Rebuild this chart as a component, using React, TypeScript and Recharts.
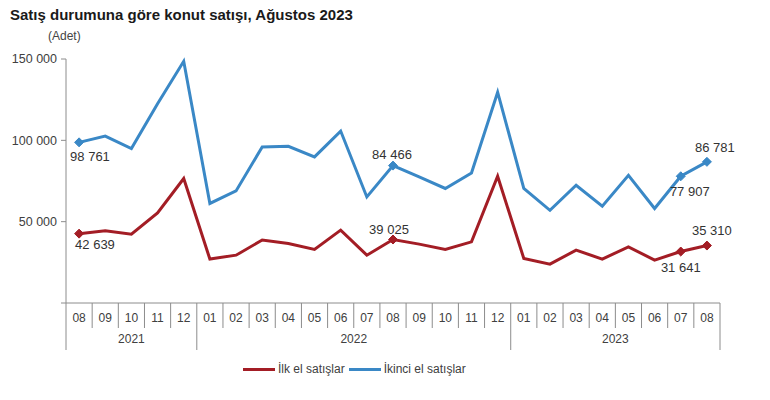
import React from 'react'
import { LineChart, Line, XAxis, YAxis, LabelList } from 'recharts'

// ── Data ──────────────────────────────────────────────────────────────────────

const months = [
  '08', '09', '10', '11', '12',
  '01', '02', '03', '04', '05', '06', '07', '08', '09', '10', '11', '12',
  '01', '02', '03', '04', '05', '06', '07', '08',
]
const years = ['2021', '2022', '2023']
const yearStarts = [0, 5, 17]

const firstHand = [
  42639, 44400, 42300, 55400, 76500,
  27000, 29400, 38700, 36600, 32900, 44800, 29400, 39025, 36200, 32900, 37600, 77900,
  27400, 23900, 32500, 27000, 34500, 26400, 31641, 35310,
]
const secondHand = [
  98761, 102600, 94900, 122500, 148600,
  61200, 68900, 95900, 96300, 89800, 105700, 65200, 84466, 77500, 70400, 79900, 129600,
  70400, 57000, 72400, 59500, 78500, 58100, 77907, 86781,
]
const yTicks = [0, 50000, 100000, 150000]
const markedPoints = [0, 12, 23, 24]

// ── Layout / style ────────────────────────────────────────────────────────────

const FONT = '"Liberation Sans", Arial, sans-serif'
const TEXT = '#404040'
const GRID = '#8c8c8c'
const RED = '#a31d25'
const BLUE = '#3a88c6'
const PLOT_LEFT = 66
const PLOT_RIGHT = 720
const STEP = (PLOT_RIGHT - PLOT_LEFT) / months.length

type Place = { dx: number; dy: number; anchor: 'start' | 'middle' | 'end' }

const firstPlaces: Record<number, Place> = {
  0: { dx: -4, dy: 15, anchor: 'start' },
  12: { dx: -4, dy: -6, anchor: 'middle' },
  23: { dx: 0, dy: 20, anchor: 'middle' },
  24: { dx: 5, dy: -11, anchor: 'middle' },
}
const secondPlaces: Record<number, Place> = {
  0: { dx: -9, dy: 19, anchor: 'start' },
  12: { dx: -1, dy: -7, anchor: 'middle' },
  23: { dx: 9, dy: 20, anchor: 'middle' },
  24: { dx: 8, dy: -10, anchor: 'middle' },
}

const data = months.map((m, i) => ({
  key: `${i}-${m}`,
  month: m,
  first: firstHand[i],
  second: secondHand[i],
}))

const fmt = (v: number) => String(v).replace(/\B(?=(\d{3})+(?!\d))/g, ' ')

// ── Pieces ────────────────────────────────────────────────────────────────────

function MonthTick(props: any) {
  const { x, y, index } = props
  const left = x - STEP / 2
  const gi = yearStarts.indexOf(index)
  const out: React.ReactNode[] = []
  out.push(
    <text key="t" x={x} y={y + 19} textAnchor="middle" fontSize={12} fill={TEXT}>
      {months[index]}
    </text>
  )
  out.push(
    <line key="l" x1={left} x2={left} y1={y} y2={gi >= 0 ? y + 47 : y + 25} stroke={GRID} />
  )
  if (gi >= 0) {
    const end = gi + 1 < yearStarts.length ? yearStarts[gi + 1] : months.length
    const cx = left + ((end - index) * STEP) / 2
    out.push(
      <text key="y" x={cx} y={y + 40} textAnchor="middle" fontSize={12} fill={TEXT}>
        {years[gi]}
      </text>
    )
  }
  if (index === months.length - 1) {
    out.push(<line key="r" x1={x + STEP / 2} x2={x + STEP / 2} y1={y} y2={y + 47} stroke={GRID} />)
  }
  return <g>{out}</g>
}

function makeDot(color: string) {
  return (p: any) => {
    const { cx, cy, index } = p
    if (!markedPoints.includes(index)) return <g key={`d${index}`} />
    const r = 4.5
    return (
      <path
        key={`d${index}`}
        d={`M${cx - r},${cy} L${cx},${cy - r} L${cx + r},${cy} L${cx},${cy + r} Z`}
        fill={color}
        stroke={color}
      />
    )
  }
}

function makeLabel(places: Record<number, Place>) {
  return (p: any) => {
    const { x, y, value, index } = p
    const pl = places[index]
    if (!pl) return null
    return (
      <text x={x + pl.dx} y={y + pl.dy} textAnchor={pl.anchor} fontSize={13} fill="#333">
        {fmt(value)}
      </text>
    )
  }
}

function LegendItem({ color, label }: { color: string; label: string }) {
  return (
    <div style={{ display: 'flex', alignItems: 'center', marginRight: 4 }}>
      <div style={{ width: 32, height: 3, background: color, marginRight: 3 }} />
      <span>{label}</span>
    </div>
  )
}

// ── App ───────────────────────────────────────────────────────────────────────

export default function App() {
  return (
    <div style={{ position: 'absolute', left: 0, top: 0, width: 770, height: 400, background: '#fff', fontFamily: FONT }}>
      <div style={{ position: 'absolute', left: 10, top: 6, fontSize: 15, fontWeight: 'bold', color: '#1a1a1a' }}>
        Satış durumuna göre konut satışı, Ağustos 2023
      </div>
      <div style={{ position: 'absolute', left: 48, top: 29, fontSize: 12, color: '#444' }}>(Adet)</div>

      <LineChart
        width={770}
        height={400}
        data={data}
        margin={{ top: 59, right: 770 - PLOT_RIGHT, left: 0, bottom: 47 }}
        style={{ position: 'absolute', left: 0, top: 0 }}
      >
        <XAxis
          dataKey="key"
          scale="band"
          height={50}
          interval={0}
          tickSize={0}
          tickMargin={0}
          tickLine={false}
          axisLine={{ stroke: GRID }}
          tick={<MonthTick />}
        />
        <YAxis
          width={PLOT_LEFT}
          domain={[0, 150000]}
          ticks={yTicks}
          interval={0}
          tickSize={5}
          tickMargin={4}
          axisLine={{ stroke: GRID }}
          tickLine={{ stroke: GRID }}
          tick={{ fontSize: 12.5, fill: TEXT }}
          tickFormatter={(v: number) => (v === 0 ? '' : fmt(v))}
        />
        <Line
          dataKey="first"
          stroke={RED}
          strokeWidth={3}
          dot={makeDot(RED)}
          activeDot={false}
          isAnimationActive={false}
        >
          <LabelList dataKey="first" content={makeLabel(firstPlaces)} />
        </Line>
        <Line
          dataKey="second"
          stroke={BLUE}
          strokeWidth={3}
          dot={makeDot(BLUE)}
          activeDot={false}
          isAnimationActive={false}
        >
          <LabelList dataKey="second" content={makeLabel(secondPlaces)} />
        </Line>
      </LineChart>

      <div
        style={{
          position: 'absolute', left: 243, top: 362, display: 'flex', alignItems: 'center',
          fontSize: 12, color: TEXT,
        }}
      >
        <LegendItem color={RED} label="İlk el satışlar" />
        <LegendItem color={BLUE} label="İkinci el satışlar" />
      </div>
    </div>
  )
}
